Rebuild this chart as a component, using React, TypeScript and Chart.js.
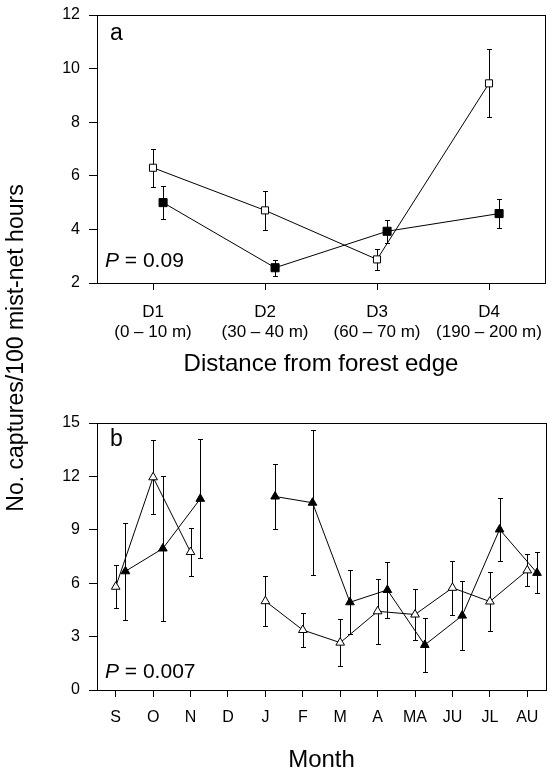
import { useEffect, useRef } from 'react';
import { Chart, registerables } from 'chart.js';

Chart.register(...registerables);

// ---------- Panel a data ----------
const distanceCodes = ['D1', 'D2', 'D3', 'D4'];
const distanceRanges = ['(0 – 10 m)', '(30 – 40 m)', '(60 – 70 m)', '(190 – 200 m)'];
const openA = [6.3, 4.71, 2.88, 9.45];
const openAErr = [0.7, 0.73, 0.4, 1.27];
const filledA = [5.0, 2.57, 3.93, 4.59];
const filledAErr = [0.62, 0.3, 0.43, 0.55];
const yTicksA = [2, 4, 6, 8, 10, 12];

// ---------- Panel b data ----------
const months = ['S', 'O', 'N', 'D', 'J', 'F', 'M', 'A', 'MA', 'JU', 'JL', 'AU'];
const openB = [5.8, 11.95, 7.75, null, 4.99, 3.37, 2.66, 4.42, 4.24, 5.74, 4.97, 6.72];
const openBErr = [1.22, 2.08, 1.37, null, 1.4, 0.95, 1.33, 1.82, 1.43, 1.52, 1.66, 0.9];
const filledB = [6.67, 7.95, 10.74, null, 10.87, 10.52, 4.93, 5.62, 2.53, 4.18, 9.02, 6.58];
const filledBErr = [2.72, 4.1, 3.35, null, 1.85, 4.08, 1.8, 1.55, 1.5, 1.95, 1.78, 1.15];
const yTicksB = [0, 3, 6, 9, 12, 15];

const FONT = "'Liberation Sans', Arial, Helvetica, sans-serif";
const OFFSET_A = 0.09;
const OFFSET_B = 0.26;

const errorBars = {
  id: 'errorBars',
  beforeDatasetsDraw(chart: any) {
    const ctx = chart.ctx;
    const xs = chart.scales.x;
    const ys = chart.scales.y;
    ctx.save();
    ctx.strokeStyle = '#000';
    ctx.lineWidth = 1;
    chart.data.datasets.forEach((ds: any) => {
      const errs = ds.errors || [];
      ds.data.forEach((pt: any, i: number) => {
        if (pt.y == null || errs[i] == null) return;
        const x = Math.round(xs.getPixelForValue(pt.x)) + 0.5;
        const yT = Math.round(ys.getPixelForValue(pt.y + errs[i])) + 0.5;
        const yB = Math.round(ys.getPixelForValue(pt.y - errs[i])) + 0.5;
        ctx.beginPath();
        ctx.moveTo(x, yT);
        ctx.lineTo(x, yB);
        ctx.moveTo(x - 2.5, yT);
        ctx.lineTo(x + 2.5, yT);
        ctx.moveTo(x - 2.5, yB);
        ctx.lineTo(x + 2.5, yB);
        ctx.stroke();
      });
    });
    ctx.restore();
  },
};

const frameAndText = {
  id: 'frameAndText',
  afterDraw(chart: any, _args: any, opts: any) {
    const ctx = chart.ctx;
    const a = chart.chartArea;
    ctx.save();
    ctx.strokeStyle = '#000';
    ctx.lineWidth = 1;
    ctx.strokeRect(Math.round(a.left) + 0.5, Math.round(a.top) + 0.5, Math.round(a.right - a.left), Math.round(a.bottom - a.top));
    ctx.fillStyle = '#000';
    ctx.textBaseline = 'alphabetic';
    ctx.textAlign = 'left';
    ctx.font = `23px ${FONT}`;
    ctx.fillText(opts.panel, a.left + 13, a.top + opts.panelDy);
    ctx.font = `italic 21px ${FONT}`;
    const px = a.left + 8;
    const py = a.bottom - opts.pDy;
    ctx.fillText('P', px, py);
    const w = ctx.measureText('P').width;
    ctx.font = `21px ${FONT}`;
    ctx.fillText(' = ' + opts.pValue, px + w, py);
    if (opts.yTitle) {
      ctx.translate(17, 348);
      ctx.rotate(-Math.PI / 2);
      ctx.textAlign = 'center';
      ctx.textBaseline = 'middle';
      ctx.font = `23px ${FONT}`;
      ctx.fillText(opts.yTitle, 0, 0);
    }
    ctx.restore();
  },
};

function makeOptions(cfg: any) {
  return {
    animation: false,
    responsive: false,
    maintainAspectRatio: false,
    layout: { padding: cfg.padding },
    plugins: {
      legend: { display: false },
      tooltip: { enabled: false },
      frameAndText: cfg.text,
    },
    scales: {
      x: {
        type: 'linear',
        min: 0.5,
        max: cfg.labels.length + 0.5,
        afterBuildTicks: (scale: any) => {
          scale.ticks = cfg.labels.map((_: any, i: number) => ({ value: i + 1 }));
        },
        afterFit: (scale: any) => {
          scale.height = cfg.xHeight;
          scale.paddingLeft = 0;
          scale.paddingRight = 0;
        },
        grid: { display: true, drawOnChartArea: false, drawTicks: true, tickLength: 7, color: '#000', lineWidth: 1 },
        border: { display: false },
        ticks: {
          color: '#000',
          font: { family: FONT, size: cfg.xFontSize, lineHeight: cfg.xLineHeight },
          padding: cfg.xTickPadding,
          maxRotation: 0,
          autoSkip: false,
          callback: (v: number) => cfg.labelFn(Math.round(v) - 1),
        },
        title: {
          display: true,
          text: cfg.xTitle,
          color: '#000',
          font: { family: FONT, size: 24, lineHeight: cfg.xTitleLineHeight },
          padding: cfg.xTitlePadding,
        },
      },
      y: {
        type: 'linear',
        min: cfg.yTicks[0],
        max: cfg.yTicks[cfg.yTicks.length - 1],
        afterBuildTicks: (scale: any) => {
          scale.ticks = cfg.yTicks.map((v: number) => ({ value: v }));
        },
        afterFit: (scale: any) => {
          scale.width = 97;
          scale.paddingTop = 0;
          scale.paddingBottom = 0;
        },
        grid: { display: true, drawOnChartArea: false, drawTicks: true, tickLength: 8, color: '#000', lineWidth: 1 },
        border: { display: false },
        ticks: {
          color: '#000',
          font: { family: FONT, size: 16 },
          padding: 9,
        },
      },
    },
  };
}

function series(values: (number | null)[], errs: (number | null)[], offset: number, filled: boolean, style: string, radius: number) {
  return {
    data: values.map((v, i) => ({ x: i + 1 + offset, y: v })),
    errors: errs,
    borderColor: '#000',
    borderWidth: 1,
    backgroundColor: filled ? '#000' : '#fff',
    pointBackgroundColor: filled ? '#000' : '#fff',
    pointBorderColor: '#000',
    pointBorderWidth: 1,
    pointStyle: style,
    pointRadius: radius,
    pointHoverRadius: radius,
    spanGaps: false,
    tension: 0,
    fill: false,
  };
}

export default function App() {
  const refA = useRef<HTMLCanvasElement>(null);
  const refB = useRef<HTMLCanvasElement>(null);

  useEffect(() => {
    document.body.style.margin = '0';
    const chartA = new Chart(refA.current as HTMLCanvasElement, {
      type: 'line',
      data: {
        datasets: [
          series(filledA, filledAErr, OFFSET_A, true, 'rect', 5.7) as any,
          series(openA, openAErr, 0, false, 'rect', 5) as any,
        ],
      },
      options: makeOptions({
        padding: { left: 0, right: 7, top: 15, bottom: 393 },
        labels: distanceCodes,
        labelFn: (i: number) => [distanceCodes[i], distanceRanges[i]],
        xHeight: 97,
        xFontSize: 17,
        xLineHeight: 20 / 17,
        xTickPadding: 12,
        xTitle: 'Distance from forest edge',
        xTitleLineHeight: 1.2,
        xTitlePadding: { top: 0, bottom: 1 },
        yTicks: yTicksA,
        text: { panel: 'a', panelDy: 25, pValue: '0.09', pDy: 16, yTitle: 'No. captures/100 mist-net hours' },
      }) as any,
      plugins: [errorBars, frameAndText],
    });
    const chartB = new Chart(refB.current as HTMLCanvasElement, {
      type: 'line',
      data: {
        datasets: [
          series(filledB, filledBErr, OFFSET_B, true, 'triangle', 5) as any,
          series(openB, openBErr, 0, false, 'triangle', 5) as any,
        ],
      },
      options: makeOptions({
        padding: { left: 0, right: 5, top: 43, bottom: 0 },
        labels: months,
        labelFn: (i: number) => months[i],
        xHeight: 83,
        xFontSize: 16,
        xLineHeight: 1.2,
        xTickPadding: 11,
        xTitle: 'Month',
        xTitleLineHeight: 1.0,
        xTitlePadding: { top: 0, bottom: 1 },
        yTicks: yTicksB,
        text: { panel: 'b', panelDy: 23, pValue: '0.007', pDy: 12, yTitle: '' },
      }) as any,
      plugins: [errorBars, frameAndText],
    });
    return () => {
      chartA.destroy();
      chartB.destroy();
    };
  }, []);

  return (
    <div style={{ position: 'relative', width: 552, height: 773, background: '#fff' }}>
      <canvas ref={refA} width={552} height={773} style={{ position: 'absolute', left: 0, top: 0, width: 552, height: 773 }} />
      <canvas ref={refB} width={552} height={393} style={{ position: 'absolute', left: 0, top: 380, width: 552, height: 393 }} />
    </div>
  );
}
